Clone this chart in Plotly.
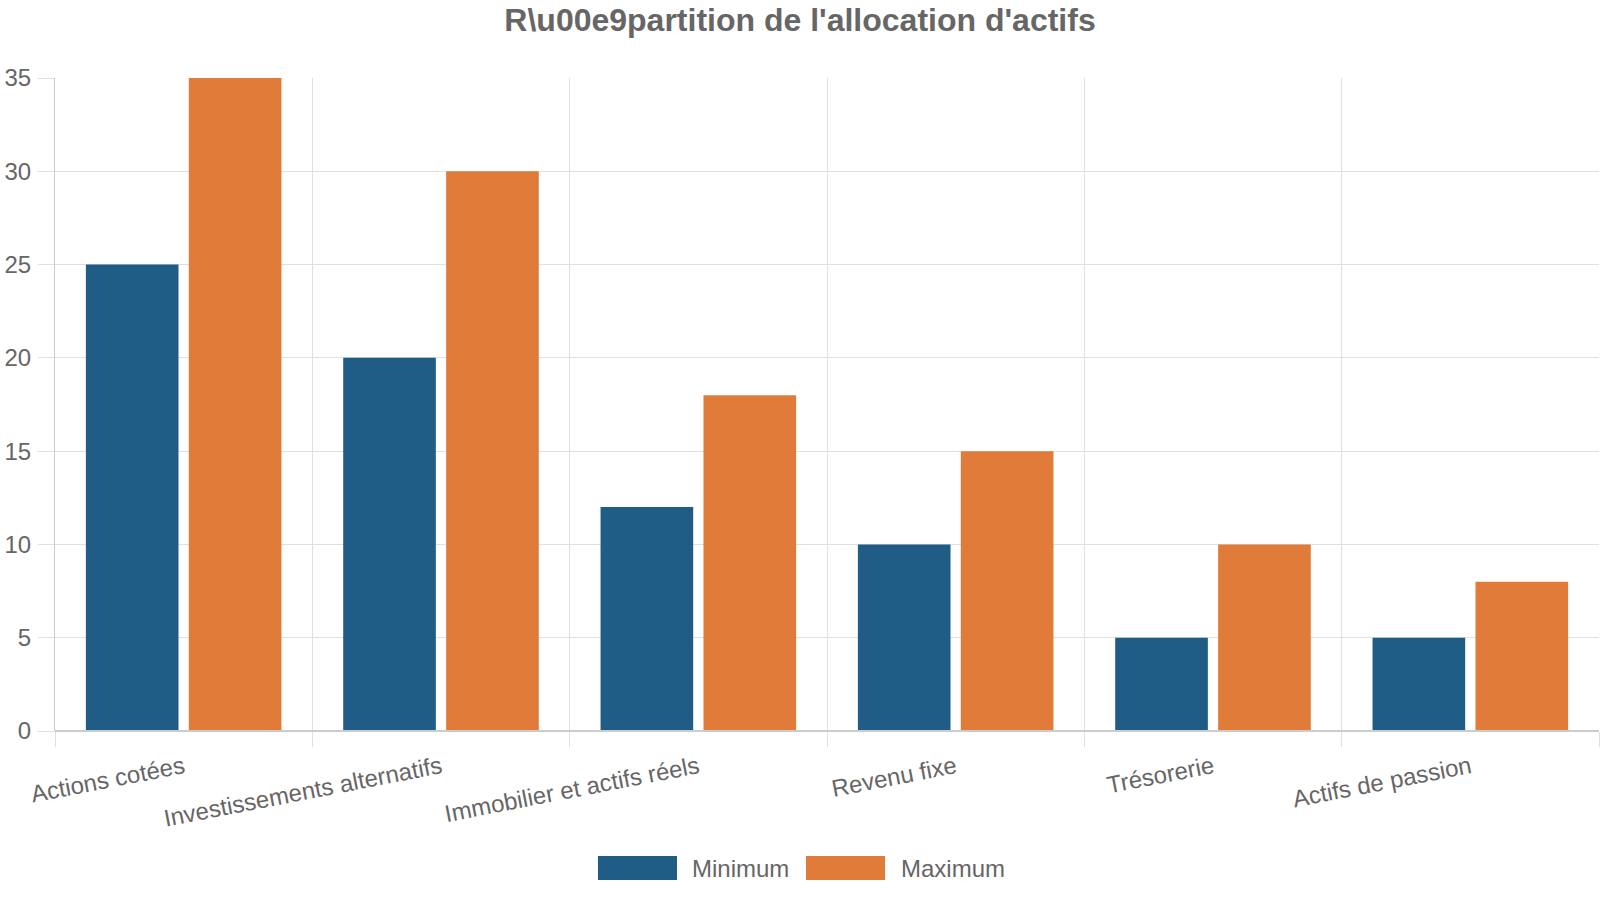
import plotly.graph_objects as go

categories = ["Actions cotées", "Investissements alternatifs", "Immobilier et actifs réels",
              "Revenu fixe", "Trésorerie", "Actifs de passion"]
minimum = [25, 20, 12, 10, 5, 5]
maximum = [35, 30, 18, 15, 10, 8]
series_names = ["Minimum", "Maximum"]
colors = ["#1f5d87", "#e07b39"]
title_text = "R\\u00e9partition de l'allocation d'actifs"

W, H = 1600, 900
# plot area in screen pixels: x 55..1599, y 78..731
L = 55
R = W - 1599
T = 78
B = H - 731
pw, ph = W - L - R, H - T - B

def px_x(p):
    return (p - L) / pw

def px_y(p):
    return (H - B - p) / ph

FONT = "Liberation Sans, Arial, sans-serif"
TXT = "#666666"
GRID = "#e0e0e0"
AXIS = "#cccccc"

fig = go.Figure()
for name, vals, col in zip(series_names, [minimum, maximum], colors):
    fig.add_trace(go.Bar(x=categories, y=vals, name=name, marker=dict(color=col, line=dict(width=0)),
                         showlegend=False))

fig.update_layout(
    width=W, height=H,
    margin=dict(l=L, r=R, t=T, b=B, autoexpand=False),
    paper_bgcolor="white", plot_bgcolor="white",
    barmode="group", bargap=0.2, bargroupgap=0.1,
    font=dict(family=FONT, color=TXT, size=24),
    title=dict(text=title_text, x=px_x(800), xref="paper", xanchor="center",
               y=1 - 20 / H, yanchor="middle",
               font=dict(family=FONT, size=32, color=TXT, weight="bold")),
)
fig.update_xaxes(
    type="category", tickson="boundaries", showgrid=True, gridcolor=GRID, gridwidth=1,
    ticks="outside", ticklen=15, tickcolor=GRID, tickangle=-11,
    tickfont=dict(size=24, color=TXT), showline=False, zeroline=False,
    range=[-0.5, 5.5], ticklabelstandoff=17, automargin=False,
)
fig.update_yaxes(
    range=[0, 35], dtick=5, showgrid=True, gridcolor=GRID, gridwidth=1,
    ticks="outside", ticklen=16, tickcolor=GRID, tickfont=dict(size=24, color=TXT),
    showline=True, linecolor=AXIS, linewidth=1, zeroline=False, ticklabelstandoff=2,
    automargin=False,
)

# x axis baseline
fig.add_shape(type="line", xref="paper", yref="paper", x0=0, x1=1, y0=0, y1=0,
              line=dict(color=AXIS, width=2))

# custom legend
legend_items = [(598, 690), (806, 899)]
for (bx, tx), name, col in zip(legend_items, series_names, colors):
    fig.add_shape(type="rect", xref="paper", yref="paper",
                  x0=px_x(bx), x1=px_x(bx + 79), y0=px_y(856), y1=px_y(880),
                  fillcolor=col, line=dict(width=0))
    fig.add_annotation(xref="paper", yref="paper", x=px_x(tx), y=px_y(868), text=name,
                       showarrow=False, xanchor="left", yanchor="middle",
                       font=dict(family=FONT, size=24, color=TXT))

fig.write_html("out.html", config={"displayModeBar": False},
               post_script="document.body.style.margin='0';")
